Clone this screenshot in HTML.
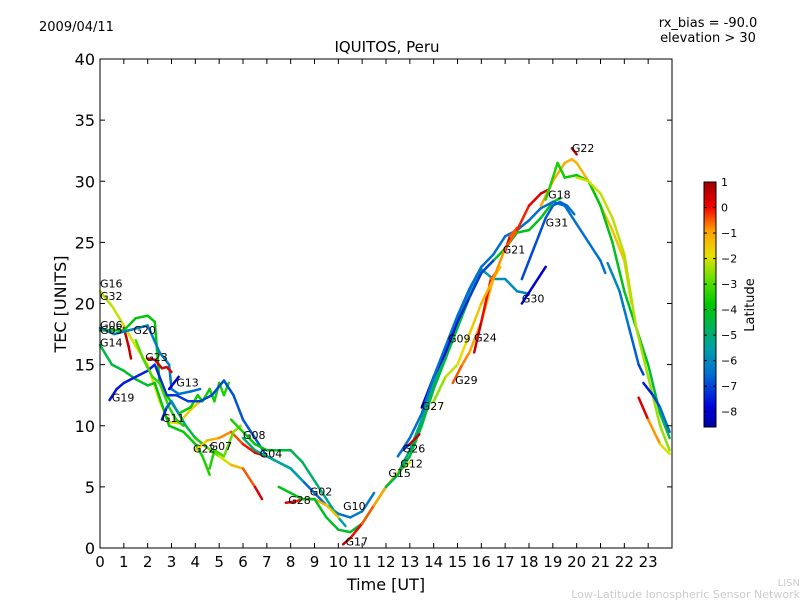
<!DOCTYPE html>
<html><head><meta charset="utf-8"><style>
body{margin:0;background:#fff;font-family:"Liberation Sans","DejaVu Sans",sans-serif}
svg text{font-family:"DejaVu Sans","Liberation Sans",sans-serif}
</style></head><body>
<svg id="c" width="800" height="600" viewBox="0 0 800 600">
<defs><linearGradient id="jet" x1="0" y1="1" x2="0" y2="0">
<stop offset="0" stop-color="#0000a0"/><stop offset="0.08" stop-color="#0000e0"/><stop offset="0.22" stop-color="#0070d0"/><stop offset="0.32" stop-color="#00a0a8"/>
<stop offset="0.5" stop-color="#00c800"/><stop offset="0.6" stop-color="#60e000"/><stop offset="0.7" stop-color="#e8e000"/><stop offset="0.8" stop-color="#ffa000"/><stop offset="0.9" stop-color="#f00000"/><stop offset="1" stop-color="#a00000"/></linearGradient></defs>
<rect width="800" height="600" fill="#fff"/>
<text x="39" y="31" font-size="13">2009/04/11</text>
<text x="708" y="27" font-size="13" text-anchor="middle">rx_bias = -90.0</text>
<text x="708" y="42" font-size="13" text-anchor="middle">elevation &gt; 30</text>
<text x="387" y="52" font-size="15" text-anchor="middle">IQUITOS, Peru</text>
<g id="plot"></g>
<rect x="100" y="59" width="572" height="489" fill="none" stroke="#000" stroke-width="1"/>
<g id="axes"></g>
<text x="386" y="590" font-size="16" text-anchor="middle">Time [UT]</text>
<text x="66" y="304" font-size="16" text-anchor="middle" transform="rotate(-90 66 304)">TEC [UNITS]</text>
<rect x="704" y="182" width="12" height="245" fill="url(#jet)" stroke="#000" stroke-width="1"/>
<g id="cbt"></g>
<text x="754" y="305" font-size="13" text-anchor="middle" transform="rotate(-90 754 305)">Latitude</text>
<text x="800" y="586" font-size="10" fill="#ccc" text-anchor="end">LISN</text>
<text x="800" y="598" font-size="11" fill="#ccc" text-anchor="end">Low-Latitude Ionospheric Sensor Network</text>
</svg>
<script>
const xTicks=[0,1,2,3,4,5,6,7,8,9,10,11,12,13,14,15,16,17,18,19,20,21,22,23];
const yTicks=[0,5,10,15,20,25,30,35,40];
const cbTicks=[1,0,-1,-2,-3,-4,-5,-6,-7,-8];
const latMin=-8.6, latMax=1.0;
const trackNames=["G16","G32","G06","G05","G14","G19","G20","G23","G13","G11","G22a","G07","G08","G04","G28","Gg1","G17","G15","G12","G26","G27","G09","G30","G29","G24","G21","G31","G18","G22","Gg2","Gy2","Gt2","Gt3","Gr2","Gb3"];
const trackPts=[
[[0,21],[0.5,19.8],[1,18.2],[1.5,16.5],[2,15],[2.5,12],[2.9,10.3],[3.3,10.2],[3.8,11.3],[4.2,12]],
[[1,18],[1.2,16.5],[1.3,15.5]],
[[0,17.8],[0.5,17.8],[1,17.8],[1.5,18.8],[2,19],[2.3,18.5],[2.4,16],[2.5,13.5],[2.8,12.5],[3.3,11],[3.8,11.5],[4.1,12.5],[4.3,12],[4.6,13],[4.8,12],[5,13.5],[5.2,12.5],[5.4,13.5]],
[[0,18],[0.6,17.5],[1.2,17.8],[2,18.2],[2.5,16],[2.9,15],[3,13],[3.3,12.6],[3.8,12.8],[4.2,13]],
[[0,16.6],[0.5,15],[1,14.5],[1.5,13.8],[2,13.3],[2.3,13.5],[2.9,10],[3.5,9.5],[4,8.5],[4.3,7.5],[4.6,6]],
[[0.4,12.1],[0.7,13],[1,13.5],[1.5,14],[2,14.5],[2.3,15],[2.6,13.5],[2.8,12.5],[3.2,12.5],[3.7,12],[4.2,12],[4.7,12.5],[5.2,13.7],[5.6,12.5],[6,10.5],[6.5,9],[7,7.5],[8,6.5],[9,4.5],[9.5,3.5],[10,2.8],[10.5,2.5],[11,3],[11.5,4.5]],
[[1.5,17],[1.8,15.5],[2.2,14],[2.5,13.5],[2.9,11.5],[3.2,10.5],[3.5,10]],
[[2,15.5],[2.3,15.4],[2.6,14.7],[2.8,14.8],[3,14.4]],
[[2.9,13],[3.1,13.5],[3.3,14]],
[[2.6,10.5],[2.8,11.5],[3,12],[3.3,11],[3.6,10],[4,9],[4.5,8.2],[5,7.5],[5.5,6.8],[6,6.5],[6.5,5],[6.8,4]],
[[4,8],[4.5,8.8],[5,9],[5.5,9.5],[6,8.5],[6.5,7.8],[7,7.5]],
[[4.6,6.5],[4.8,8],[5.2,7.5],[5.6,9.5],[5.9,10]],
[[5.5,10.5],[6,9.5],[6.5,8.5],[7,8],[7.5,8],[8,8],[8.5,7],[9,5.5],[9.5,4],[10,2.5],[10.3,1.8]],
[[6,9],[6.5,8],[7,7.5],[7.5,7],[8,6.5],[8.5,5.5]],
[[7.8,3.7],[8.2,3.8],[8.5,4],[9,4],[9.5,3.5],[10,2.5]],
[[7.5,5],[8,4.5],[8.5,4],[9,4],[9.5,2.5],[10,1.5],[10.5,1.3],[11,2],[11.5,3.5],[12,5],[12.5,6]],
[[10.2,0.3],[10.5,0.8],[11,2],[11.5,3.5],[12,5],[12.5,6.2],[13,7]],
[[12,5],[12.5,6],[13,7.5],[13.5,10],[14,13],[14.5,15.5],[15,18],[15.5,20.5],[16,22.5],[16.5,23.5],[17,24.5],[17.5,25.8],[18,26],[18.5,27],[19,28.3],[19.3,28.6]],
[[12.6,6.5],[13,8],[13.5,10.5],[14,13.5],[14.5,16],[15,18.5],[15.5,21],[16,22.8],[16.5,22],[17,22],[17.5,21],[18,20.8]],
[[12.7,8],[13,8.5],[13.4,9.3]],
[[13.5,11.5],[14,14],[14.5,16],[15,18.5],[15.5,20.5],[16,22.5],[16.5,23.5]],
[[12.5,7.5],[13,9],[13.5,11],[14,14],[14.5,16.5],[15,19],[15.5,21.2],[16,23],[16.5,24],[17,25.5],[17.5,26],[18,26.8],[18.5,27.8],[19,28.3],[19.5,28],[20,26.5],[20.5,25],[21,23.5],[21.2,22.5]],
[[17.7,20],[18.2,21.5],[18.7,23]],
[[14.8,13.5],[15.2,15],[15.5,16],[16,18.5],[16.5,22],[16.8,23]],
[[15.7,16],[16,18.5],[16.4,22],[16.6,22.5]],
[[17,24.3],[17.2,25.5],[17.5,26.2]],
[[17.7,22],[18.2,24.5],[18.7,27],[19,28],[19.3,28.3],[19.6,28],[19.9,27.3]],
[[14,12],[14.5,14],[15,15],[15.5,17.5],[16,20],[16.5,22],[17,24.5],[17.5,26],[18,28],[18.5,29],[18.8,29.3]],
[[18.5,28],[19,30],[19.5,31.5],[19.8,31.8],[20,31.5],[20.5,30],[21,28],[21.5,26],[22,23.5],[22.3,20]],
[[18.7,28.5],[19.2,31.5],[19.5,30.3],[20,30.5],[20.5,30],[21,28],[21.5,25],[22,21],[22.5,18],[23,15],[23.5,11],[23.9,9]],
[[20,30.3],[20.5,30],[21,29],[21.5,27],[22,24],[22.5,18],[23,14],[23.5,10],[23.9,8]],
[[21.3,23.3],[21.8,21],[22.2,18],[22.6,15],[22.8,14.2]],
[[22.8,13.5],[23.2,12.5],[23.5,11.5],[23.9,9.5]],
[[22.6,12.3],[23,10.5],[23.5,8.5],[23.9,7.7]],
[[19.8,32.7],[20,32.2]]
];
const trackLat=[[-2.2,-1.5],[0.5,0.5],[-4,-3.5],[-6,-6.5],[-4.5,-3.5],[-7.6,-6.3],[-3,-3.5],[0.5,0.3],[-8,-8],[-7.5,0.3],[-1.5,0.3],[-3.5,-2.5],[-3.5,-5.5],[-5,-5.5],[0.3,-1.5],[-4,-4.5],[0.5,-2],[-4.5,-4],[-5,-6],[-7.5,0.5],[-8,-7],[-6.5,-6.5],[-8,-8],[-0.5,-1.5],[0.5,-0.5],[0.5,-0.5],[-7,-6.5],[-2.5,0.5],[-1,-1.5],[-3.5,-4.5],[-2,-2.5],[-6,-7],[-7.5,-6.5],[0.3,-2],[0.5,0.5]];
const labels=[["G16",0,21.3],["G32",0,20.3],["G06",0,17.9],["G05",0,17.5],["G14",0,16.5],["G20",1.4,17.5],["G23",1.9,15.3],["G13",3.2,13.2],["G19",0.5,12],["G11",2.6,10.3],["G22",3.9,7.8],["G07",4.6,8],["G08",6,8.9],["G04",6.7,7.4],["G28",7.9,3.6],["G02",8.8,4.3],["G10",10.2,3.1],["G17",10.3,0.2],["G15",12.1,5.8],["G12",12.6,6.6],["G26",12.7,7.8],["G27",13.5,11.3],["G09",14.6,16.8],["G24",15.7,16.9],["G29",14.9,13.4],["G21",16.9,24.1],["G30",17.7,20.1],["G31",18.7,26.3],["G18",18.8,28.6],["G22",19.8,32.4]];
const X=h=>100+h*(572/24), Y=v=>548-v*(489/40), CY=l=>182+(latMax-l)*(245/(latMax-latMin));
const cmapStops=[[0,[0,0,160]],[0.08,[0,0,224]],[0.22,[0,112,208]],[0.32,[0,160,168]],[0.5,[0,200,0]],[0.6,[96,224,0]],[0.7,[232,224,0]],[0.8,[255,160,0]],[0.9,[240,0,0]],[1,[160,0,0]]];
function cmap(t){t=Math.max(0,Math.min(1,t));
 for(let i=0;i<cmapStops.length-1;i++){const [a,ca]=cmapStops[i],[b,cb]=cmapStops[i+1];
  if(t<=b){const f=(t-a)/(b-a);return `rgb(${ca.map((v,k)=>Math.round(v+(cb[k]-v)*f)).join(',')})`;}}
 return 'rgb(160,0,0)';}
const NS='http://www.w3.org/2000/svg';
function mk(t,a,p){const e=document.createElementNS(NS,t);for(const k in a)e.setAttribute(k,a[k]);p.appendChild(e);return e;}
const plot=document.getElementById('plot'), axes=document.getElementById('axes'), cbt=document.getElementById('cbt');
trackPts.forEach((pts,i)=>{
 const g=mk('g',{},plot);
 
 
 const [l0,l1]=trackLat[i];
 for(let j=0;j<pts.length-1;j++){
  const f=pts.length>2?j/(pts.length-2):0, lat=l0+(l1-l0)*f;
  const s=mk('line',{x1:X(pts[j][0]),y1:Y(pts[j][1]),x2:X(pts[j+1][0]),y2:Y(pts[j+1][1]),stroke:cmap((lat-latMin)/(latMax-latMin)),'stroke-width':2.5,'stroke-linecap':'round'},g);
  
  
 }
});
labels.forEach(([t,h,v])=>{
 const e=mk('text',{x:X(h),y:Y(v),'font-size':11},plot);e.textContent=t;
 
 
});
xTicks.forEach(t=>{
 mk('line',{x1:X(t),x2:X(t),y1:548,y2:543,stroke:'#000'},axes);
 mk('line',{x1:X(t),x2:X(t),y1:59,y2:64,stroke:'#000'},axes);
 const e=mk('text',{x:X(t),y:567,'font-size':15,'text-anchor':'middle'},axes);e.textContent=t;
 
 
});
yTicks.forEach(t=>{
 mk('line',{x1:100,x2:105,y1:Y(t),y2:Y(t),stroke:'#000'},axes);
 mk('line',{x1:672,x2:667,y1:Y(t),y2:Y(t),stroke:'#000'},axes);
 const e=mk('text',{x:95,y:Y(t)+6,'font-size':16,'text-anchor':'end'},axes);e.textContent=t;
 
 
});
cbTicks.forEach(t=>{
 mk('line',{x1:704,x2:707,y1:CY(t),y2:CY(t),stroke:'#000'},cbt);
 mk('line',{x1:716,x2:713,y1:CY(t),y2:CY(t),stroke:'#000'},cbt);
 const e=mk('text',{x:721,y:CY(t)+4,'font-size':11},cbt);e.textContent=(t<0?'\u2212'+(-t):t);
 
 
});
</script>
</body></html>
